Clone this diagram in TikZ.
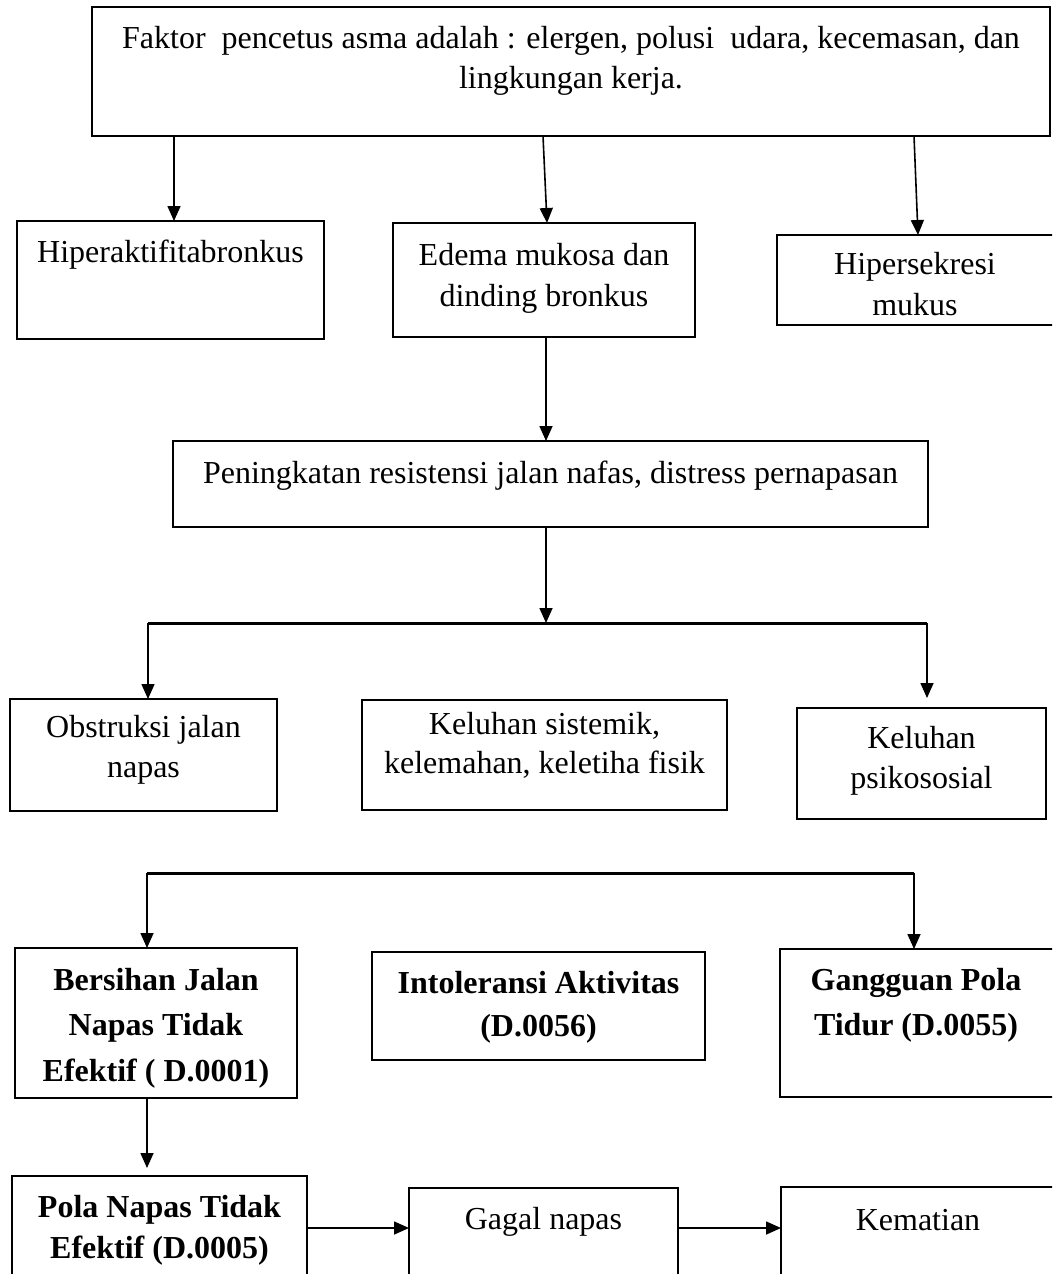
\documentclass[tikz,border=0pt]{standalone}
\usepackage{fontspec}
\setmainfont{Liberation Serif}
\usetikzlibrary{arrows.meta}
\tikzset{
  box/.style={draw, line width=1.6pt, inner sep=0pt, outer sep=0pt, anchor=north west},
  txt/.style={inner sep=0pt, outer sep=0pt, anchor=north, align=center},
  arr/.style={line width=1.6pt, -{Triangle[length=15pt,width=13pt]}},
  bar/.style={line width=3pt},
}
\newcommand{\bx}[5]{\node[box, minimum width={(#4-#2)*1pt}, minimum height={(#5-#3)*1pt}] (#1) at (#2,#3) {};}
\newcommand{\tx}[5]{\node[txt, font=\fontsize{32}{#4}\selectfont] (#1) at (#2,{#3-0.7*#4}) {\strut #5};}
\begin{document}
\begin{tikzpicture}[x=1pt,y=-1pt]
\useasboundingbox (0,0) rectangle (1052,1274);
\clip (0,0) rectangle (1052,1274);
% boxes
\bx{A}{92}{7}{1050}{136}
\bx{B}{17}{221}{324}{339}
\bx{C}{393}{223}{695}{337}
\bx{D}{777}{235}{1060}{325}
\bx{E}{173}{441}{928}{527}
\bx{F}{10}{699}{277}{811}
\bx{G}{362}{700}{727}{810}
\bx{H}{797}{708}{1046}{819}
\bx{I}{15}{948}{297}{1098}
\bx{J}{372}{952}{705}{1060}
\bx{K}{780}{949}{1060}{1097}
\bx{L}{12}{1176}{307}{1290}
\bx{M}{409}{1188}{678}{1290}
\bx{N}{781}{1187}{1060}{1290}
% texts
\tx{tA}{571}{48}{40}{Faktor\ \ pencetus asma adalah : elergen, polusi\ \ udara, kecemasan, dan\\lingkungan kerja.}
\tx{tB}{170.5}{262}{40}{Hiperaktifitabronkus}
\tx{tC}{544}{265}{41}{Edema mukosa dan\\dinding bronkus}
\tx{tD}{915}{274}{41}{Hipersekresi\\mukus}
\tx{tE}{550.5}{483}{40}{Peningkatan resistensi jalan nafas, distress pernapasan}
\tx{tF}{143.5}{737}{40}{Obstruksi jalan\\napas}
\tx{tG}{544.5}{734}{39}{Keluhan sistemik,\\kelemahan, keletiha fisik}
\tx{tH}{921.5}{748}{40}{Keluhan\\psikososial}
\tx{tI}{156}{990}{45.5}{\bfseries Bersihan Jalan\\\bfseries Napas Tidak\\\bfseries Efektif ( D.0001)}
\tx{tJ}{538.5}{993}{43}{\bfseries Intoleransi Aktivitas\\\bfseries (D.0056)}
\tx{tK}{916}{990}{45}{\bfseries Gangguan Pola\\\bfseries Tidur (D.0055)}
\tx{tL}{159.5}{1217}{41}{\bfseries Pola Napas Tidak\\\bfseries Efektif (D.0005)}
\tx{tM}{543.5}{1229}{40}{Gagal napas}
\tx{tN}{918}{1230}{40}{Kematian}
% branch bars
\coordinate (b1l) at (148,623);
\coordinate (b1r) at (927,623);
\coordinate (b2l) at (147,873);
\coordinate (b2r) at (914,873);
\draw[bar] (b1l) -- (b1r);
\draw[bar] (b2l) -- (b2r);
% connectors
\draw[arr] ([xshift=-397pt]A.south) -- ([xshift=3.5pt]B.north);
\draw[arr] ([xshift=-28pt]A.south) -- ([xshift=3pt]C.north);
\draw[arr] ([xshift=343pt]A.south) -- ([xshift=-0.5pt]D.north);
\draw[arr] ([xshift=2pt]C.south) -- ([xshift=-4.5pt]E.north);
\coordinate (e1) at ([xshift=-4.5pt]E.south);
\draw[arr] (e1) -- (e1 |- b1l);
\draw[arr] (b1l) -- (b1l |- F.north);
\draw[arr, shorten >=10pt] (b1r) -- (b1r |- H.north);
\draw[arr] (b2l) -- (b2l |- I.north);
\draw[arr] (b2r) -- (b2r |- K.north);
\draw[arr, shorten >=8pt] (b2l |- I.south) -- (b2l |- L.north);
\coordinate (h) at ([yshift=5pt]L.east);
\draw[arr] (h) -- (h -| M.west);
\draw[arr] (h -| M.east) -- (h -| N.west);
\end{tikzpicture}
\end{document}
